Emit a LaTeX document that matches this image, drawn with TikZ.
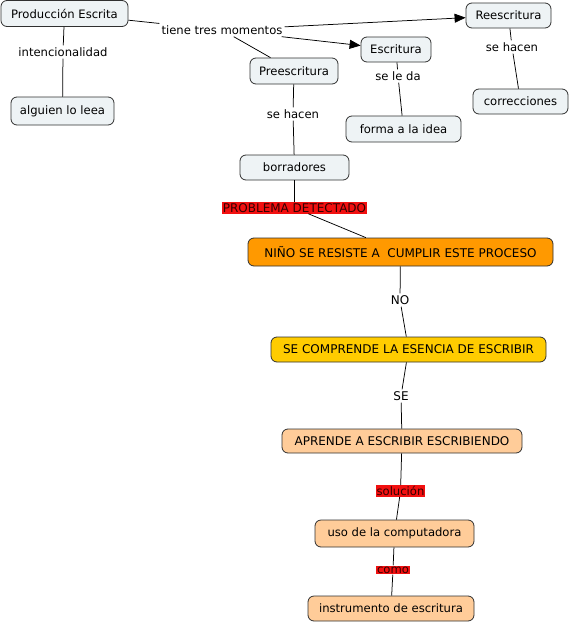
\documentclass[tikz,border=0pt]{standalone}
\usepackage{fontspec}
\setmainfont{DejaVu Sans}
\usetikzlibrary{arrows.meta}
\definecolor{boxlight}{HTML}{EEF3F5}
\definecolor{boxorange}{HTML}{FF9900}
\definecolor{boxgold}{HTML}{FFCC00}
\definecolor{boxpeach}{HTML}{FFCC99}
\definecolor{lblred}{HTML}{F21010}
\definecolor{edge}{HTML}{303030}
\begin{document}
\begin{tikzpicture}[x=1pt,y=-1pt,
  font=\fontsize{11.6}{13}\selectfont,
  upper/.style={font=\fontsize{12}{14}\selectfont},
  concept/.style={draw=edge,line width=0.8pt,rounded corners=6pt,inner sep=0pt,minimum height=26pt,text=black},
  light/.style={concept,fill=boxlight},
  orangebox/.style={concept,upper,fill=boxorange},
  goldbox/.style={concept,upper,fill=boxgold},
  peachbox/.style={concept,fill=boxpeach},
  linklabel/.style={inner sep=2pt,text=black},
  redlabel/.style={inner sep=1pt,fill=lblred,text=black!80!red},
  conn/.style={draw=black,line width=0.75pt},
  arr/.style={conn,-{Triangle[length=11pt,width=9pt]}}
]
\useasboundingbox (0,0) rectangle (571,624);

% concepts
\node[light,minimum width=127pt] (pe) at (64.5,13.5) {Producción Escrita};
\node[light,minimum width=103pt,minimum height=28pt] (alg) at (62.5,111) {alguien lo leea};
\node[light,minimum width=88pt] (pre) at (294,71) {Preescritura};
\node[light,minimum width=70pt,minimum height=25pt] (esc) at (396,49.5) {Escritura};
\node[light,minimum width=85pt,minimum height=25pt] (ree) at (508.5,15.5) {Reescritura};
\node[light,minimum width=115pt] (forma) at (403.5,129) {forma a la idea};
\node[light,minimum width=95pt,minimum height=25pt] (corr) at (520.5,101.5) {correcciones};
\node[light,minimum width=109pt,minimum height=25pt] (borr) at (294.5,167.5) {borradores};
\node[orangebox,minimum width=305pt,minimum height=28pt] (nino) at (400.5,252) {NIÑO SE RESISTE A \ CUMPLIR ESTE PROCESO};
\node[goldbox,minimum width=275pt,minimum height=25pt] (comp) at (408.5,349.5) {SE COMPRENDE LA ESENCIA DE ESCRIBIR};
\node[peachbox,upper,minimum width=240pt,minimum height=24pt] (apr) at (402,441) {APRENDE A ESCRIBIR ESCRIBIENDO};
\node[peachbox,minimum width=159pt,minimum height=27pt] (uso) at (394.5,533.5) {uso de la computadora};
\node[peachbox,minimum width=166pt,minimum height=25pt] (inst) at (391,608.5) {instrumento de escritura};

% linking phrases
\node[linklabel] (int) at (63,52) {intencionalidad};
\node[linklabel] (tiene) at (222,30) {tiene tres momentos};
\node[linklabel] (sh1) at (293,114) {se hacen};
\node[linklabel] (sld) at (398,76) {se le da};
\node[linklabel] (sh2) at (512,47) {se hacen};
\node[redlabel,upper] (prob) at (294.5,208) {PROBLEMA DETECTADO};
\node[linklabel,upper] (no) at (400,300) {NO};
\node[linklabel,upper] (se) at (401,396) {SE};
\node[redlabel] (sol) at (400.5,491) {solución};
\node[redlabel] (como) at (393,570) {como};

% connectors
\draw[conn] (pe) -- (int);
\draw[conn] (int) -- (alg);
\draw[conn] (pe) -- (tiene);
\draw[arr] (tiene) -- (ree);
\draw[arr] (tiene) -- (esc);
\draw[conn] (tiene) -- (pre);
\draw[conn] (pre) -- (sh1);
\draw[conn] (sh1) -- (borr);
\draw[conn] (esc) -- (sld);
\draw[conn] (sld) -- (forma);
\draw[conn] (ree) -- (sh2);
\draw[conn] (sh2) -- (corr);
\draw[conn] (borr) -- (prob);
\draw[conn] (prob) -- (nino);
\draw[conn] (nino) -- (no);
\draw[conn] (no) -- (comp);
\draw[conn] (comp) -- (se);
\draw[conn] (se) -- (apr);
\draw[conn] (apr) -- (sol);
\draw[conn] (sol) -- (uso);
\draw[conn] (uso) -- (como);
\draw[conn] (como) -- (inst);
\end{tikzpicture}
\end{document}
